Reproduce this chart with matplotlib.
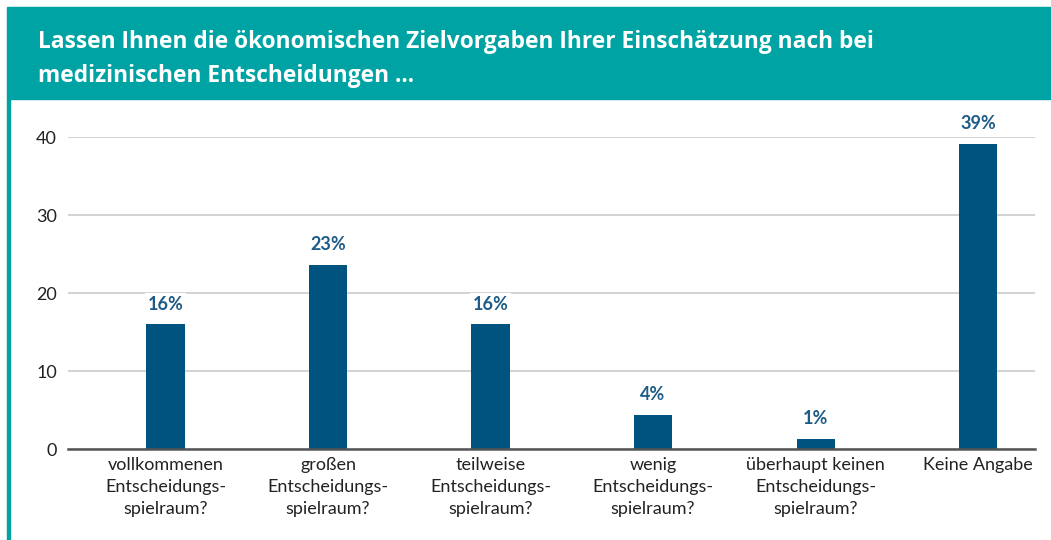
import matplotlib
matplotlib.use("Agg")
import matplotlib.pyplot as plt
from matplotlib.patches import Rectangle

# data
categories = [
    "vollkommenen\nEntscheidungs-\nspielraum?",
    "großen\nEntscheidungs-\nspielraum?",
    "teilweise\nEntscheidungs-\nspielraum?",
    "wenig\nEntscheidungs-\nspielraum?",
    "überhaupt keinen\nEntscheidungs-\nspielraum?",
    "Keine Angabe",
]
values = [16, 23.6, 16, 4.4, 1.3, 39.1]
value_labels = ["16%", "23%", "16%", "4%", "1%", "39%"]
y_ticks = [0, 10, 20, 30, 40]

title = ("Lassen Ihnen die ökonomischen Zielvorgaben Ihrer Einschätzung nach bei\n"
         "medizinischen Entscheidungen ...")

teal = "#00a3a3"
bar_color = "#00527f"
label_color = "#1e5b87"

plt.rcParams["font.family"] = ["Lato", "DejaVu Sans"]

fig = plt.figure(figsize=(10.51, 5.40), dpi=100)
W, H = 1051, 540

# header band and left border
fig.patches.append(Rectangle((7 / W, 1 - 99 / H), 1 - 7 / W, 92 / H,
                             transform=fig.transFigure, color=teal, zorder=0))
fig.patches.append(Rectangle((7 / W, 0), 2.5 / W, 1 - 99 / H,
                             transform=fig.transFigure, color=teal, zorder=0))
fig.text(38 / W, 1 - 59 / H, title, color="white", fontsize=16.4,
         fontweight="bold", family=["Open Sans", "DejaVu Sans"],
         va="center", ha="left", linespacing=1.5)

ax = fig.add_axes([68 / W, 1 - 449 / H, (1035 - 68) / W, (449 - 137) / H])
x = list(range(len(categories)))
ax.bar(x, values, width=0.235, color=bar_color, zorder=3)

for xi, v, lab in zip(x, values, value_labels):
    ax.text(xi, v + 1.5, lab, ha="center", va="bottom", fontsize=13,
            fontweight="bold", color=label_color, zorder=4, clip_on=False,
            bbox=dict(boxstyle="square,pad=0.15", fc="white", ec="none"))

ax.set_xlim(-0.6, 5.35)
ax.set_ylim(0, 40)
ax.set_yticks(y_ticks)
ax.set_xticks(x)
ax.set_xticklabels(categories, fontsize=13, color="#222222", linespacing=1.45)
ax.tick_params(axis="y", length=0, pad=8, labelsize=13, labelcolor="#222222")
ax.tick_params(axis="x", length=0, pad=6)

ax.yaxis.grid(True, color="#cccccc", linewidth=1.2, zorder=0)
ax.set_axisbelow(True)
for s in ["top", "right", "left"]:
    ax.spines[s].set_visible(False)
ax.spines["bottom"].set_color("#555555")
ax.spines["bottom"].set_linewidth(1.8)
ax.spines["bottom"].set_zorder(5)

fig.savefig("out.png", dpi=100)
